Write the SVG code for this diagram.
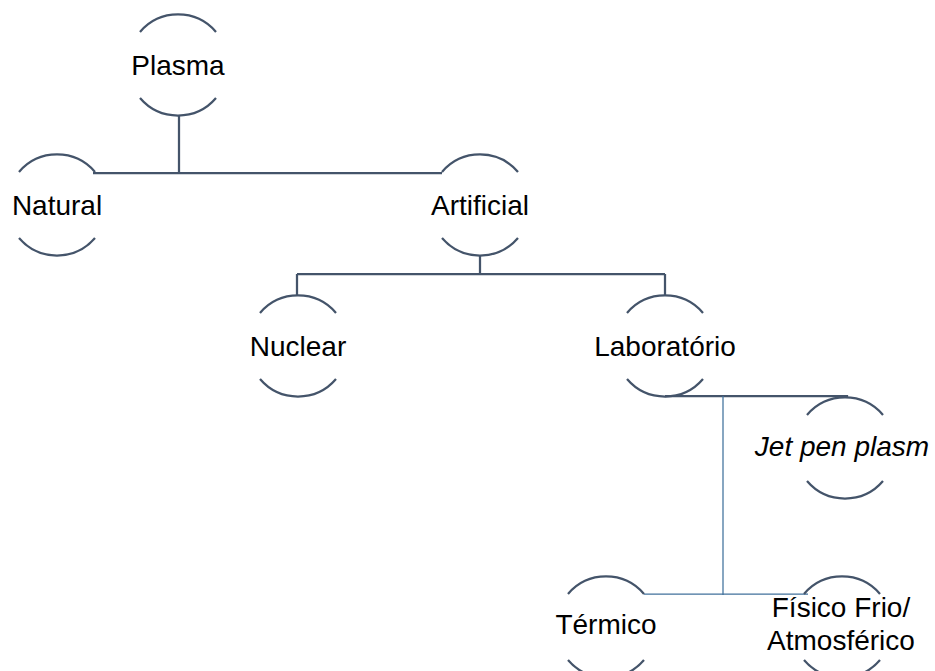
<svg xmlns="http://www.w3.org/2000/svg" xmlns:xlink="http://www.w3.org/1999/xlink" width="935" height="671" viewBox="0 0 935 671">
<style>
.arc{fill:none;stroke:#44546A;stroke-width:2.25}
.lbl{font-family:"Liberation Sans",Arial,sans-serif;font-size:28px;fill:#000;text-anchor:middle}
.it{font-style:italic}
.thick{fill:none;stroke:#44546A;stroke-width:2.25}
.thin{fill:none;stroke:#41719C;stroke-width:1.25}
</style>
<defs>
<path id="arcs" class="arc" d="M-38,-33 A50,50 0 0 1 38,-33 M-38,33 A50,50 0 0 0 38,33"/>
</defs>
<rect width="935" height="671" fill="#fff"/>
<g id="connectors">
<path class="thick" d="M179,115 V173 M93,173 H442 M480,255 V274 M297,274 H665 M297,274 V296 M665,274 V296 M665,396 H847 V398"/>
<path class="thin" d="M723,396 V595 M644,594 H808"/>
</g>
<g id="plasma" transform="translate(178,65)"><use xlink:href="#arcs"/><text class="lbl" x="0" y="10">Plasma</text></g>
<g id="natural" transform="translate(57,205)"><use xlink:href="#arcs"/><text class="lbl" x="0" y="10">Natural</text></g>
<g id="artificial" transform="translate(480,205)"><use xlink:href="#arcs"/><text class="lbl" x="0" y="10">Artificial</text></g>
<g id="nuclear" transform="translate(298,346)"><use xlink:href="#arcs"/><text class="lbl" x="0" y="10">Nuclear</text></g>
<g id="laboratorio" transform="translate(665,346)"><use xlink:href="#arcs"/><text class="lbl" x="0" y="10">Laboratório</text></g>
<g id="jetpen" transform="translate(845,448)"><use xlink:href="#arcs"/><text class="lbl it" x="-3" y="8">Jet pen plasm</text></g>
<g id="termico" transform="translate(606,627)"><use xlink:href="#arcs"/><text class="lbl" x="0" y="7">Térmico</text></g>
<g id="fisicofrio" transform="translate(842,627)"><use xlink:href="#arcs"/><text class="lbl" x="-1" y="-10">Físico Frio/</text><text class="lbl" x="-1" y="23">Atmosférico</text></g>
</svg>
